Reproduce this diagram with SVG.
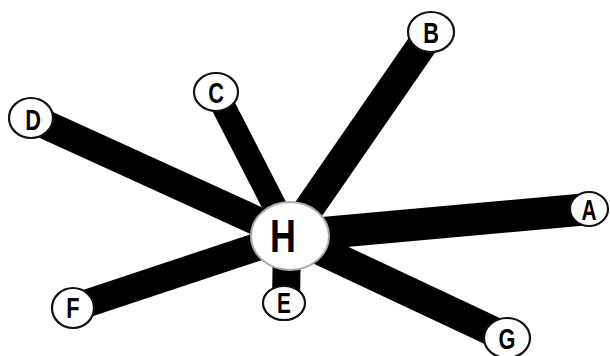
<svg xmlns="http://www.w3.org/2000/svg" width="610" height="356" viewBox="0 0 610 356">
<style>
.e{stroke:#000;stroke-linecap:butt}
.n{fill:#fff;stroke:#111;stroke-width:2.2}
.h{fill:#fff;stroke:#aaa;stroke-width:2}
.t{font-family:"Liberation Sans",Arial,sans-serif;font-weight:bold;font-size:29px;text-anchor:middle;fill:#000}
.th{font-size:46px}
</style>
<rect width="610" height="356" fill="#fff"/>
<g id="connectors">
<line class="e" x1="290" y1="236" x2="431" y2="32" stroke-width="30"/>
<line class="e" x1="290" y1="236" x2="216" y2="92" stroke-width="24"/>
<line class="e" x1="290" y1="236" x2="31" y2="118" stroke-width="29"/>
<line class="e" x1="290" y1="236" x2="589" y2="209" stroke-width="32"/>
<line class="e" x1="290" y1="236" x2="507" y2="338" stroke-width="30"/>
<line class="e" x1="290" y1="236" x2="73" y2="308" stroke-width="28"/>
<line class="e" x1="287" y1="236" x2="286" y2="303" stroke-width="28"/>
</g>
<g id="H"><ellipse class="h" cx="290" cy="236" rx="39" ry="34"/><text class="t th" transform="translate(283,252) scale(0.78,1)">H</text></g>
<g id="B"><ellipse class="n" cx="431" cy="32" rx="23" ry="20"/><text class="t" transform="translate(431,43) scale(0.75,1)">B</text></g>
<g id="C"><ellipse class="n" cx="216" cy="92" rx="22" ry="19"/><text class="t" transform="translate(216,103) scale(0.75,1)">C</text></g>
<g id="D"><ellipse class="n" cx="31" cy="118" rx="22" ry="20"/><text class="t" transform="translate(33,130) scale(0.75,1)">D</text></g>
<g id="A"><ellipse class="n" cx="589" cy="209" rx="19" ry="17"/><text class="t" transform="translate(589,220) scale(0.72,1)">A</text></g>
<g id="F"><ellipse class="n" cx="73" cy="308" rx="21" ry="20"/><text class="t" transform="translate(73,318) scale(0.75,1)">F</text></g>
<g id="E"><ellipse class="n" cx="284" cy="303" rx="21" ry="17"/><text class="t" transform="translate(284,313) scale(0.72,1)">E</text></g>
<g id="G"><ellipse class="n" cx="507" cy="338" rx="23" ry="20"/><text class="t" transform="translate(507,349) scale(0.75,1)">G</text></g>
</svg>
